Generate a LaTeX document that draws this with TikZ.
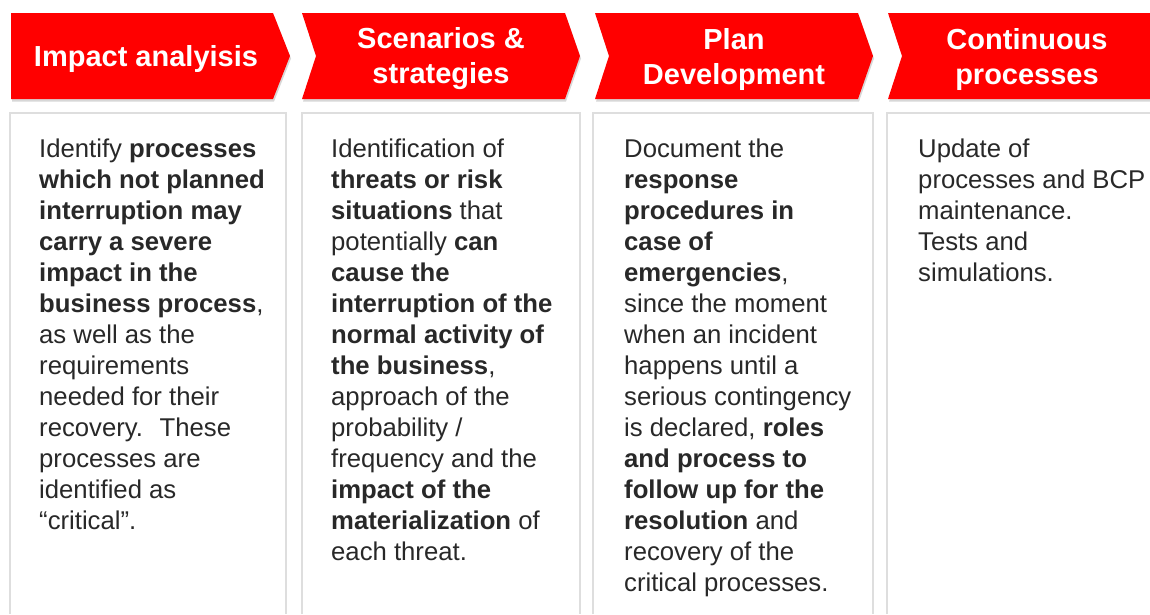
\documentclass[tikz,border=0pt]{standalone}
\usepackage{fontspec}
\setmainfont{Liberation Sans}
\usetikzlibrary{shadows}
\definecolor{hdrred}{RGB}{255,0,0}
\definecolor{bodytext}{RGB}{40,40,40}
\tikzset{
  chevron/.style={fill=hdrred,
    drop shadow={shadow xshift=1pt,shadow yshift=-2.5pt,opacity=0.35,fill=black!45}},
  panel/.style={draw=black!13, line width=1.4pt},
  header/.style={text=white, align=center, inner sep=0pt,
    font=\fontsize{29}{35}\selectfont\bfseries},
  body/.style={text=bodytext, align=left, anchor=north west, inner sep=0pt,
    font=\fontsize{25.7}{31}\selectfont}
}
\begin{document}
\begin{tikzpicture}[x=1pt,y=-1pt]
  \useasboundingbox (0,0) rectangle (1150,614);
  % panels
  \draw[panel] (10,614) -- (10,113) -- (286,113) -- (286,614);
  \draw[panel] (302,614) -- (302,113) -- (580,113) -- (580,614);
  \draw[panel] (593,614) -- (593,113) -- (873,113) -- (873,614);
  \draw[panel] (887,614) -- (887,113) -- (1152,113);
  % headers
  \fill[chevron] (11,13) -- (273,13) -- (290,56) -- (273,99) -- (11,99) -- cycle;
  \fill[chevron] (302,13) -- (565,13) -- (580,56) -- (565,99) -- (302,99) -- (316,56) -- cycle;
  \fill[chevron] (595,13) -- (858,13) -- (873,56) -- (858,99) -- (595,99) -- (609,56) -- cycle;
  \fill[chevron] (888,13) -- (1152,13) -- (1152,99) -- (888,99) -- (902,56) -- cycle;
  \node[header] (h1) at (146,59) {Impact analyisis};
  \node[header] (h2) at (441,59) {Scenarios \&\\strategies};
  \node[header] (h3) at (734,59) {Plan\\Development};
  \node[header] (h4) at (1027,59) {Continuous\\processes};
  % texts
  \node[body] (b1) at (39,139) {Identify \textbf{processes}\\
    \textbf{which not planned}\\
    \textbf{interruption may}\\
    \textbf{carry a severe}\\
    \textbf{impact in the}\\
    \textbf{business process},\\
    as well as the\\
    requirements\\
    needed for their\\
    recovery.~ These\\
    processes are\\
    identified as\\
    “critical”.};
  \node[body] (b2) at (331,139) {Identification of\\
    \textbf{threats or risk}\\
    \textbf{situations} that\\
    potentially \textbf{can}\\
    \textbf{cause the}\\
    \textbf{interruption of the}\\
    \textbf{normal activity of}\\
    \textbf{the business},\\
    approach of the\\
    probability /\\
    frequency and the\\
    \textbf{impact of the}\\
    \textbf{materialization} of\\
    each threat.};
  \node[body] (b3) at (624,139) {Document the\\
    \textbf{response}\\
    \textbf{procedures in}\\
    \textbf{case of}\\
    \textbf{emergencies},\\
    since the moment\\
    when an incident\\
    happens until a\\
    serious contingency\\
    is declared, \textbf{roles}\\
    \textbf{and process to}\\
    \textbf{follow up for the}\\
    \textbf{resolution} and\\
    recovery of the\\
    critical processes.};
  \node[body] (b4) at (918,139) {Update of\\
    processes and BCP\\
    maintenance.\\
    Tests and\\
    simulations.};
\end{tikzpicture}
\end{document}
